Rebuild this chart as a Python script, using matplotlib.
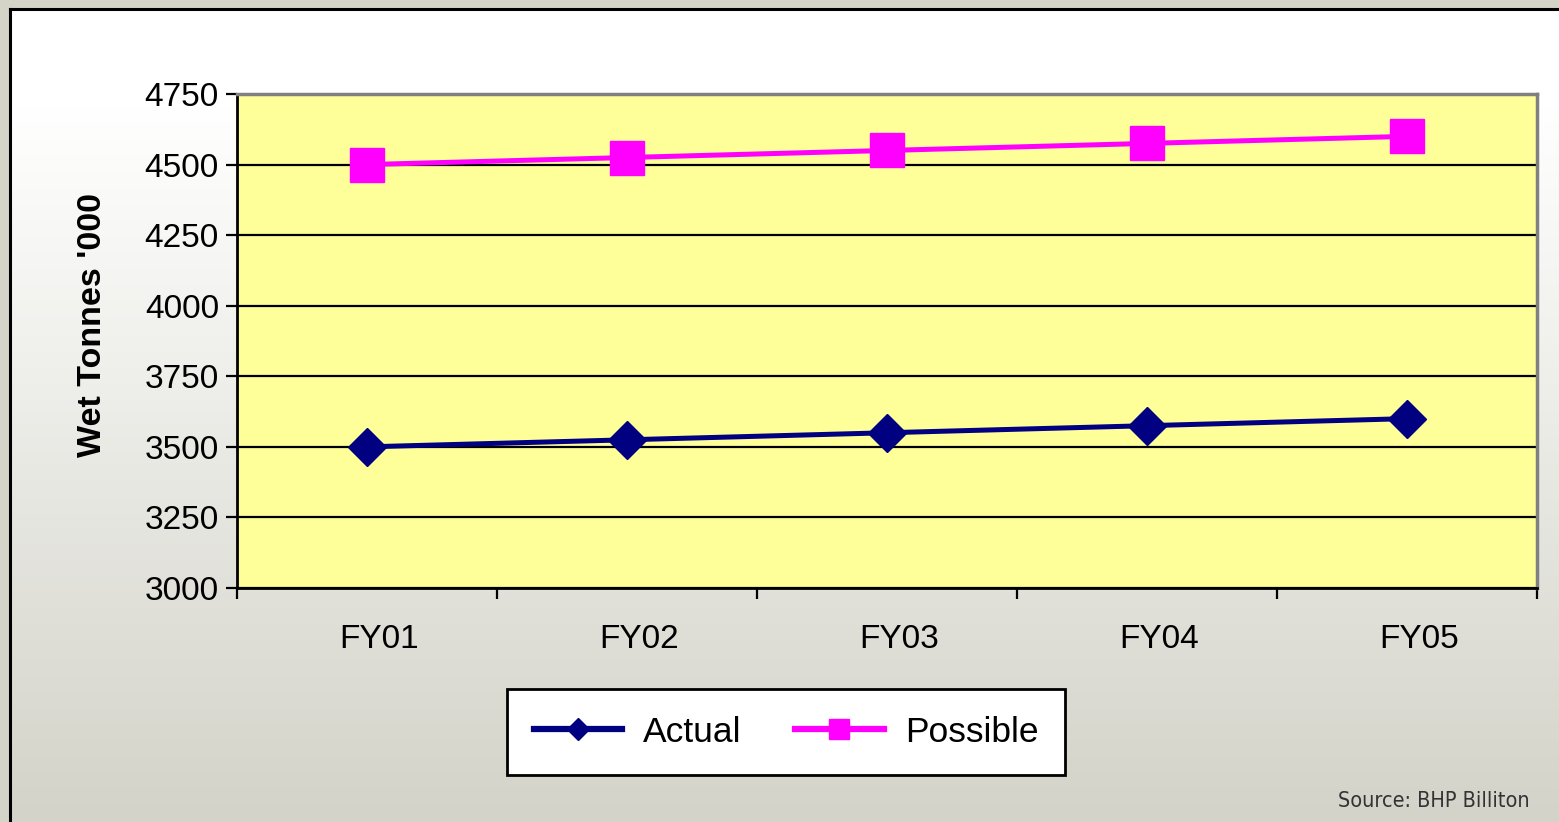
import numpy as np
import matplotlib.pyplot as plt
import matplotlib.transforms as mtransforms
from matplotlib.colors import LinearSegmentedColormap

years = ["FY01", "FY02", "FY03", "FY04", "FY05"]
actual = [3500, 3525, 3550, 3575, 3600]
possible = [4500, 4525, 4550, 4575, 4600]
y_ticks = [3000, 3250, 3500, 3750, 4000, 4250, 4500, 4750]

plt.rcParams['font.family'] = ['Liberation Sans', 'DejaVu Sans']

fig = plt.figure(figsize=(15.59, 8.22), dpi=100)
fig.patch.set_facecolor('#d4d4c8')

# framed background with a vertical white -> grey gradient
bg = fig.add_axes([10 / 1559, 0, 1 - 10 / 1559, 1 - 9 / 822])
cmap = LinearSegmentedColormap.from_list('bg', [(0, '#ffffff'), (0.12, '#ffffff'), (1, '#d3d3c9')])
bg.imshow(np.linspace(0, 1, 256).reshape(-1, 1), aspect='auto', cmap=cmap,
          extent=[0, 1, 0, 1], origin='upper')
bg.set_xticks([])
bg.set_yticks([])
for side in ['right', 'bottom']:
    bg.spines[side].set_visible(False)
for side in ['left', 'top']:
    bg.spines[side].set_linewidth(2.2)
    bg.spines[side].set_color('black')

ax = fig.add_axes([237 / 1559, 1 - 588 / 822, 1300 / 1559, 494 / 822])
ax.set_facecolor('#ffff99')
x = np.arange(len(years))

ax.plot(x, actual, color='#000080', lw=3.6, marker='D', markersize=19,
        label='Actual', zorder=3)
ax.plot(x, possible, color='#ff00ff', lw=3.6, marker='s', markersize=25,
        label='Possible', zorder=3)

ax.set_xlim(-0.5, len(years) - 0.5)
ax.set_ylim(3000, 4750)
ax.set_yticks(y_ticks)
ax.set_yticklabels([str(v) for v in y_ticks], fontsize=24)
ax.yaxis.grid(True, color='black', lw=1.6)
ax.set_axisbelow(True)

ax.set_xticks(np.arange(-0.5, len(years)), minor=False)
ax.set_xticklabels([])
ax.set_xticks(x, minor=True)
ax.set_xticklabels(years, minor=True, fontsize=24)
ax.tick_params(axis='x', which='minor', length=0, pad=26)
ax.tick_params(axis='x', which='major', length=8, width=1.6, direction='out')
ax.tick_params(axis='y', length=8, width=1.6, direction='out', pad=5)
offset = mtransforms.ScaledTranslation(12 / 100, 0, fig.dpi_scale_trans)
for lab in ax.xaxis.get_minorticklabels():
    lab.set_transform(lab.get_transform() + offset)

for side in ['top', 'right']:
    ax.spines[side].set_color('#808080')
    ax.spines[side].set_linewidth(2.5)
for side in ['left', 'bottom']:
    ax.spines[side].set_color('black')
    ax.spines[side].set_linewidth(2)

fig.text(93 / 1559, 1 - 325 / 822, "Wet Tonnes '000", rotation=90, ha='center',
         va='center', fontsize=24.5, fontweight='bold')

leg = fig.legend(loc='center', bbox_to_anchor=(786 / 1559, 1 - 732 / 822), ncol=2,
                 fontsize=25.5, frameon=True, fancybox=False, edgecolor='black',
                 framealpha=1, handlelength=2.5, handletextpad=0.6,
                 columnspacing=1.5, markerscale=0.6, borderpad=0.75)
leg.get_frame().set_linewidth(2)
for line in leg.get_lines():
    line.set_linewidth(4.5)

fig.text(1530 / 1559, 1 - 801 / 822, "Source: BHP Billiton", ha='right', va='center',
         fontsize=15.5, color='#333333', family='DejaVu Sans', stretch='condensed')

fig.savefig('out.png', dpi=100, facecolor=fig.get_facecolor())
